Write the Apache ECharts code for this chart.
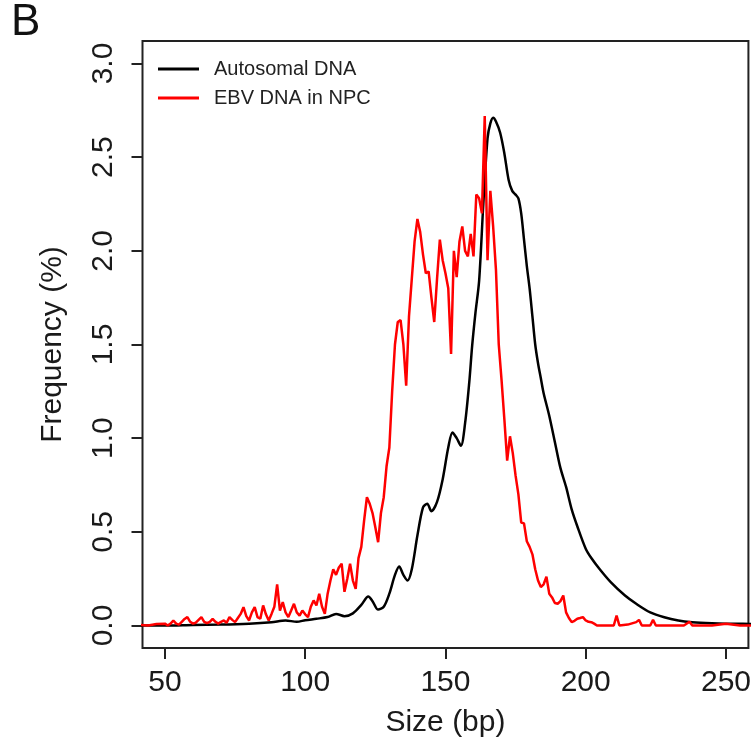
<!DOCTYPE html>
<html>
<head>
<meta charset="utf-8">
<script src="https://cdn.jsdelivr.net/npm/echarts@6/dist/echarts.min.js"></script>
<style>
  html, body { margin: 0; padding: 0; background: #fff; }
  #chart { width: 754px; height: 745px; }
</style>
</head>
<body>
<div id="chart"></div>
<script>
// tick labels
const xTicks = [50, 100, 150, 200, 250];
const yTicks = [0, 0.5, 1.0, 1.5, 2.0, 2.5, 3.0];

// autosomal DNA size profile (bp, %)
const autoSize = [36, 50, 60, 70, 80, 88, 93, 97, 100, 104, 108, 111, 114, 117, 120, 122.5, 124, 126, 128, 130, 132,
  133.5, 135, 136.5, 138, 140, 142, 143.5, 145, 147, 149, 151, 152.5, 154, 155.5, 157, 158.5, 159.5, 160.7, 162, 163.5,
  165, 166, 167, 168, 169.5, 171, 172.5, 173.8, 175, 176, 177, 178, 179, 180, 181, 182, 183, 184, 185, 187,
  189, 191, 193, 195, 197, 200, 202, 205, 209, 214, 218, 223, 228, 233, 238, 245, 250, 264];
const autoFreq = [0.0, 0.0, 0.003, 0.005, 0.01, 0.018, 0.027, 0.02, 0.028, 0.036, 0.045, 0.062, 0.05, 0.065, 0.11, 0.155, 0.13, 0.085, 0.1, 0.17, 0.27,
  0.315, 0.27, 0.24, 0.3, 0.48, 0.63, 0.65, 0.61, 0.66, 0.78, 0.95, 1.03, 1.0, 0.96, 1.08, 1.3, 1.49, 1.67, 1.84, 2.25,
  2.6, 2.68, 2.71, 2.69, 2.63, 2.52, 2.38, 2.32, 2.3, 2.28, 2.2, 2.06, 1.92, 1.8, 1.65, 1.5, 1.4, 1.32, 1.24, 1.12,
  0.98, 0.84, 0.74, 0.62, 0.53, 0.41, 0.36, 0.3, 0.23, 0.16, 0.116, 0.07, 0.044, 0.027, 0.018, 0.012, 0.01, 0.008];

// EBV DNA in NPC size profile (bp, %)
const ebvSize = [36, 40, 44, 47, 50, 51, 52, 53, 54, 55, 56, 57, 58, 59, 60, 61, 62, 63, 64, 65, 66, 67, 68, 69,
  70, 71, 72, 73, 74, 75, 76, 77, 78, 79, 80, 81, 82, 83, 84, 85, 86, 87, 88, 89,
  90, 91, 92, 93, 94, 95, 96, 97, 98, 99, 100, 101, 102, 103, 104, 105, 106, 107, 108, 109,
  110, 111, 112, 113, 114, 115, 116, 117, 118, 119, 120, 121, 122, 123, 124, 125, 126, 127, 128, 129,
  130, 131, 132, 133, 134, 135, 136, 137, 138, 139, 140, 141, 142, 143, 144, 145, 146, 147, 148, 149,
  150, 151, 152, 153, 154, 155, 156, 157, 158, 159, 160, 161, 162, 163, 164, 165, 166, 167, 168, 169,
  170, 171, 172, 173, 174, 175, 176, 177, 178, 179, 180, 181, 182, 183, 184, 185, 186, 187, 188, 189,
  190, 191, 192, 193, 194, 195, 196, 197, 198, 199, 200, 201, 202, 203, 204, 206, 208, 210, 211, 212,
  215, 218, 219, 220, 223, 224, 225, 230, 235, 237, 238, 245, 250, 255, 264];
const ebvFreq = [0.0, 0.005, 0.0, 0.008, 0.01, 0.0, 0.01, 0.027, 0.01, 0.005, 0.02, 0.035, 0.045, 0.02, 0.01, 0.015, 0.03, 0.045, 0.02, 0.013, 0.02, 0.036, 0.02, 0.01,
  0.02, 0.027, 0.015, 0.045, 0.03, 0.018, 0.04, 0.062, 0.098, 0.05, 0.027, 0.07, 0.098, 0.045, 0.036, 0.107, 0.06, 0.027, 0.062, 0.1,
  0.22, 0.08, 0.125, 0.07, 0.045, 0.08, 0.116, 0.07, 0.053, 0.08, 0.06, 0.045, 0.1, 0.134, 0.107, 0.17, 0.1, 0.062, 0.17, 0.24,
  0.3, 0.27, 0.31, 0.33, 0.18, 0.25, 0.33, 0.24, 0.196, 0.36, 0.42, 0.56, 0.685, 0.65, 0.6, 0.525, 0.445, 0.6, 0.685, 0.85,
  0.95, 1.25, 1.5, 1.62, 1.63, 1.5, 1.28, 1.65, 1.85, 2.05, 2.17, 2.1, 1.98, 1.88, 1.89, 1.75, 1.62, 1.85, 2.06, 1.95,
  1.88, 1.8, 1.45, 2.0, 1.86, 2.05, 2.13, 2.0, 1.97, 2.09, 1.97, 2.3, 2.28, 2.2, 2.72, 1.95, 2.32, 2.13, 1.9, 1.5,
  1.31, 1.1, 0.88, 1.01, 0.92, 0.8, 0.7, 0.55, 0.545, 0.45, 0.42, 0.38, 0.3, 0.24, 0.205, 0.22, 0.26, 0.17, 0.15, 0.12,
  0.116, 0.13, 0.16, 0.07, 0.04, 0.018, 0.025, 0.036, 0.04, 0.045, 0.027, 0.02, 0.018, 0.01, 0.0, 0.0, 0.0, 0.0, 0.053, 0.0,
  0.005, 0.018, 0.03, 0.0, 0.0, 0.03, 0.0, 0.0, 0.0, 0.02, 0.0, 0.0, 0.01, 0.0, 0.0];

const autoData = autoSize.map((s, i) => [s, autoFreq[i]]);
const ebvData = ebvSize.map((s, i) => [s, ebvFreq[i]]);

const font = 'Liberation Sans, Arial, sans-serif';
const chart = echarts.init(document.getElementById('chart'));

chart.setOption({
  backgroundColor: '#fff',
  animation: false,
  graphic: [
    {
      type: 'text',
      left: 11,
      top: 1,
      style: { text: 'B', fontSize: 44, fontFamily: font, fill: '#111' },
    },
  ],
  legend: {
    left: 153,
    top: 54,
    orient: 'vertical',
    icon: 'rect',
    itemWidth: 41,
    itemHeight: 3,
    itemGap: 9,
    textStyle: { fontSize: 20, fontFamily: font, color: '#222', padding: [0, 0, 0, 10] },
    data: ['Autosomal DNA', 'EBV DNA in NPC'],
  },
  grid: {
    left: 142.5,
    right: 5,
    top: 41,
    bottom: 97,
    show: true,
    borderColor: '#222',
    borderWidth: 2,
    containLabel: false,
  },
  xAxis: {
    type: 'value',
    min: 42,
    max: 258,
    name: 'Size (bp)',
    nameLocation: 'middle',
    nameGap: 60,
    nameTextStyle: { fontSize: 30, fontFamily: font, color: '#1a1a1a' },
    axisLine: { show: false, onZero: false },
    axisTick: { show: true, length: 11, customValues: xTicks, lineStyle: { color: '#222', width: 2 } },
    axisLabel: { customValues: xTicks, fontSize: 30, fontFamily: font, color: '#1a1a1a', margin: 20 },
    splitLine: { show: false },
  },
  yAxis: {
    type: 'value',
    min: -0.12,
    max: 3.12,
    name: 'Frequency (%)',
    nameLocation: 'middle',
    nameGap: 75,
    nameTextStyle: { fontSize: 30, fontFamily: font, color: '#1a1a1a' },
    axisLine: { show: false, onZero: false },
    axisTick: { show: true, length: 11, customValues: yTicks, lineStyle: { color: '#222', width: 2 } },
    axisLabel: {
      customValues: yTicks,
      rotate: 90,
      fontSize: 30,
      fontFamily: font,
      color: '#1a1a1a',
      margin: 24,
      formatter: (v) => v.toFixed(1),
    },
    splitLine: { show: false },
  },
  series: [
    {
      name: 'Autosomal DNA',
      type: 'line',
      smooth: 0.3,
      showSymbol: false,
      clip: true,
      color: '#000',
      lineStyle: { color: '#000', width: 2.5 },
      data: autoData,
    },
    {
      name: 'EBV DNA in NPC',
      type: 'line',
      showSymbol: false,
      clip: true,
      color: '#ff0000',
      lineStyle: { color: '#ff0000', width: 2.5 },
      data: ebvData,
    },
  ],
});

window.addEventListener('resize', () => chart.resize());
</script>
</body>
</html>
